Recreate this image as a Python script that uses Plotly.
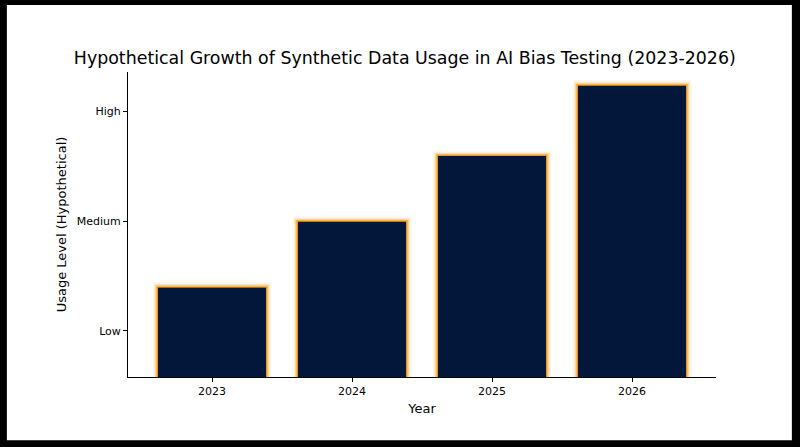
import plotly.graph_objects as go

# ── Data ───────────────────────────────────────────────────────────────────────

years        = ["2023", "2024", "2025", "2026"]
usage_levels = [1.4, 2.0, 2.6, 3.24]
level_ticks  = [1, 2, 3]
level_labels = ["Low", "Medium", "High"]

# ── Style ──────────────────────────────────────────────────────────────────────

_NAVY   = "#02173a"
_GLOW   = "255,160,30"
_FONT   = "DejaVu Sans"
_BAR_W  = 0.78

fig = go.Figure()

# halo orange autour des barres : plusieurs contours de plus en plus fins
for width, alpha in [(10, 0.07), (7, 0.13), (5, 0.25), (3, 0.5)]:
    fig.add_trace(go.Bar(x=years, y=usage_levels, width=_BAR_W,
                         marker=dict(color="rgba(0,0,0,0)",
                                     line=dict(color=f"rgba({_GLOW},{alpha})", width=width)),
                         hoverinfo="skip", showlegend=False))

fig.add_trace(go.Bar(x=years, y=usage_levels, width=_BAR_W,
                     marker=dict(color=_NAVY, line=dict(color=f"rgba({_GLOW},0.85)", width=1.2)),
                     showlegend=False))

# cadre noir autour du fond blanc
fig.add_shape(type="rect", xref="paper", yref="paper", layer="below",
              x0=-0.206, x1=1.129, y0=-0.207, y1=1.220,
              fillcolor="white", line=dict(width=0))

fig.update_layout(
    width=800, height=447, barmode="overlay",
    margin=dict(l=128, r=84, t=72, b=70),
    paper_bgcolor="black", plot_bgcolor="white",
    font=dict(family=_FONT, color="black"),
    title=dict(text="Hypothetical Growth of Synthetic Data Usage in AI Bias Testing (2023-2026)",
               xref="container", yref="container", x=0.506, y=0.870,
               xanchor="center", yanchor="middle", font=dict(size=17.4)),
)
fig.update_xaxes(type="category", range=[-0.6, 3.6], showgrid=False,
                 showline=True, linecolor="black", linewidth=1,
                 ticks="outside", ticklen=4, tickcolor="black",
                 tickfont=dict(size=11),
                 title=dict(text="Year", font=dict(size=13), standoff=6))
fig.update_yaxes(range=[0.58, 3.36], showgrid=False, zeroline=False,
                 showline=True, linecolor="black", linewidth=1,
                 ticks="outside", ticklen=4, tickcolor="black",
                 tickvals=level_ticks, ticktext=level_labels,
                 tickfont=dict(size=11),
                 title=dict(text="Usage Level (Hypothetical)", font=dict(size=13), standoff=7))

# pas de marge de page autour de la figure, pas de barre d'outils
fig.write_html("out.html", config={"displayModeBar": False},
               post_script="document.body.style.margin='0';document.body.style.background='black';")
